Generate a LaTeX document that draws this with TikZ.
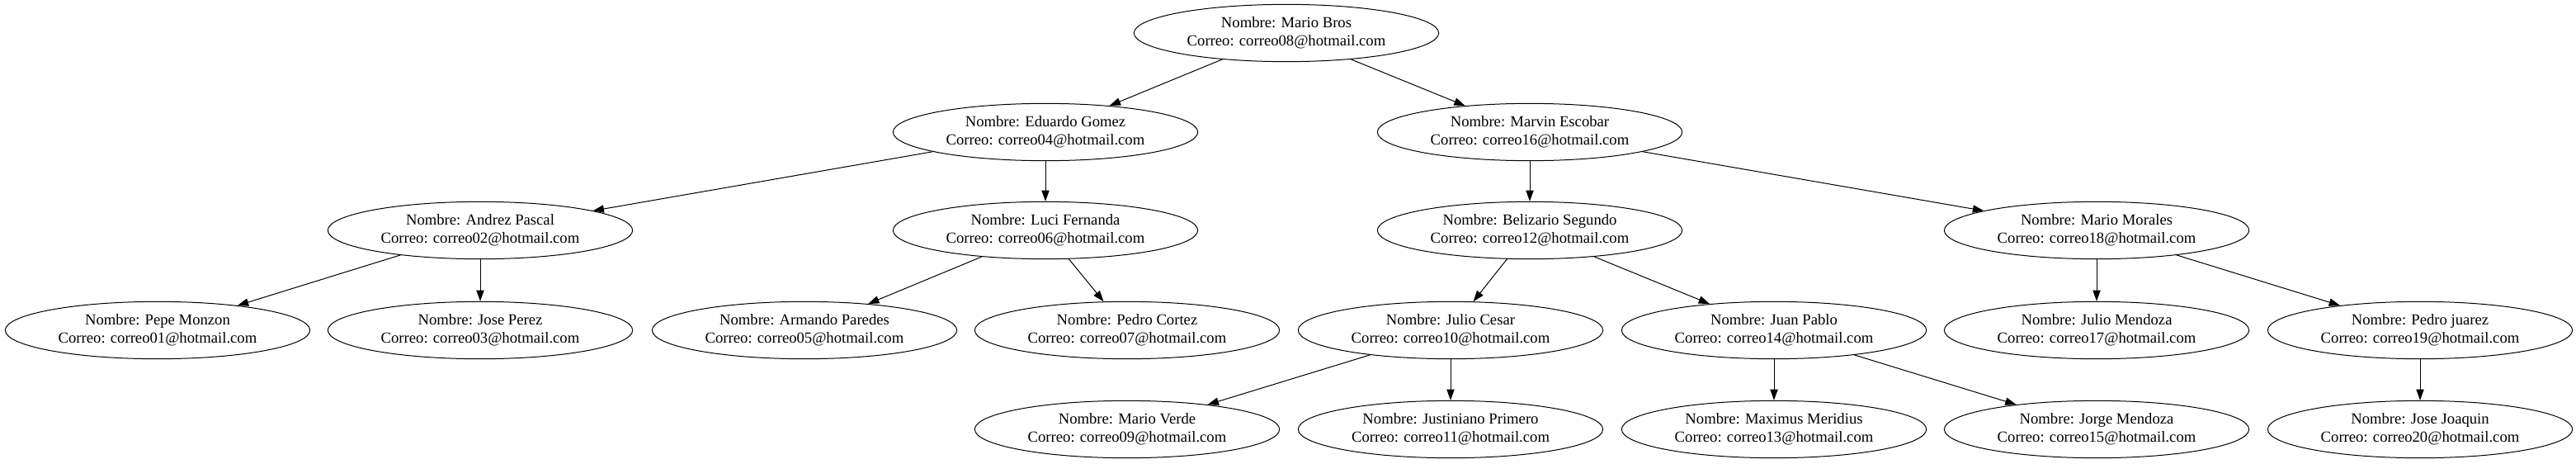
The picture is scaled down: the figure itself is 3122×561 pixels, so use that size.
\documentclass[tikz,border=0pt]{standalone}
\usepackage{fontspec}
\setmainfont{Liberation Serif}
\usetikzlibrary{shapes.geometric,arrows.meta}
\tikzset{
  person/.style={ellipse, draw, line width=0.75pt, minimum width=277pt, minimum height=52pt, inner sep=0pt, align=center, font=\fontsize{14pt}{16.8pt}\selectfont},
  link/.style={line width=0.75pt, -{Triangle[length=10pt,width=7pt]}}
}
\newcommand{\pn}[2]{Nombre: #1\\Correo: correo#2@hotmail.com}
\begin{document}
\begin{tikzpicture}[x=0.75pt,y=-0.75pt]
\useasboundingbox (0,0) rectangle (3122,561);
% row 0
\node[person] (r) at (1559,40) {\pn{Mario Bros}{08}};
% row 1
\node[person] (eg) at (1267,160) {\pn{Eduardo Gomez}{04}};
\node[person] (me) at (1854,160) {\pn{Marvin Escobar}{16}};
% row 2
\node[person] (ap) at (582,279) {\pn{Andrez Pascal}{02}};
\node[person] (lf) at (1267,279) {\pn{Luci Fernanda}{06}};
\node[person] (bs) at (1854,279) {\pn{Belizario Segundo}{12}};
\node[person] (mm) at (2541,279) {\pn{Mario Morales}{18}};
% row 3
\node[person] (pm) at (191,400) {\pn{Pepe Monzon}{01}};
\node[person] (jp) at (582,400) {\pn{Jose Perez}{03}};
\node[person] (ar) at (975,400) {\pn{Armando Paredes}{05}};
\node[person] (pc) at (1366,400) {\pn{Pedro Cortez}{07}};
\node[person] (jc) at (1758,400) {\pn{Julio Cesar}{10}};
\node[person] (ju) at (2150,400) {\pn{Juan Pablo}{14}};
\node[person] (jm) at (2541,400) {\pn{Julio Mendoza}{17}};
\node[person] (pj) at (2933,400) {\pn{Pedro juarez}{19}};
% row 4
\node[person] (mv) at (1366,520) {\pn{Mario Verde}{09}};
\node[person] (jt) at (1758,520) {\pn{Justiniano Primero}{11}};
\node[person] (mx) at (2150,520) {\pn{Maximus Meridius}{13}};
\node[person] (jo) at (2541,520) {\pn{Jorge Mendoza}{15}};
\node[person] (jj) at (2933,520) {\pn{Jose Joaquin}{20}};
% edges
\draw[link] (r) -- (eg);
\draw[link] (r) -- (me);
\draw[link] (eg) -- (ap);
\draw[link] (eg) -- (lf);
\draw[link] (ap) -- (pm);
\draw[link] (ap) -- (jp);
\draw[link] (lf) -- (ar);
\draw[link] (lf) -- (pc);
\draw[link] (me) -- (bs);
\draw[link] (me) -- (mm);
\draw[link] (bs) -- (jc);
\draw[link] (bs) -- (ju);
\draw[link] (jc) -- (mv);
\draw[link] (jc) -- (jt);
\draw[link] (ju) -- (mx);
\draw[link] (ju) -- (jo);
\draw[link] (mm) -- (jm);
\draw[link] (mm) -- (pj);
\draw[link] (pj) -- (jj);
\end{tikzpicture}
\end{document}
